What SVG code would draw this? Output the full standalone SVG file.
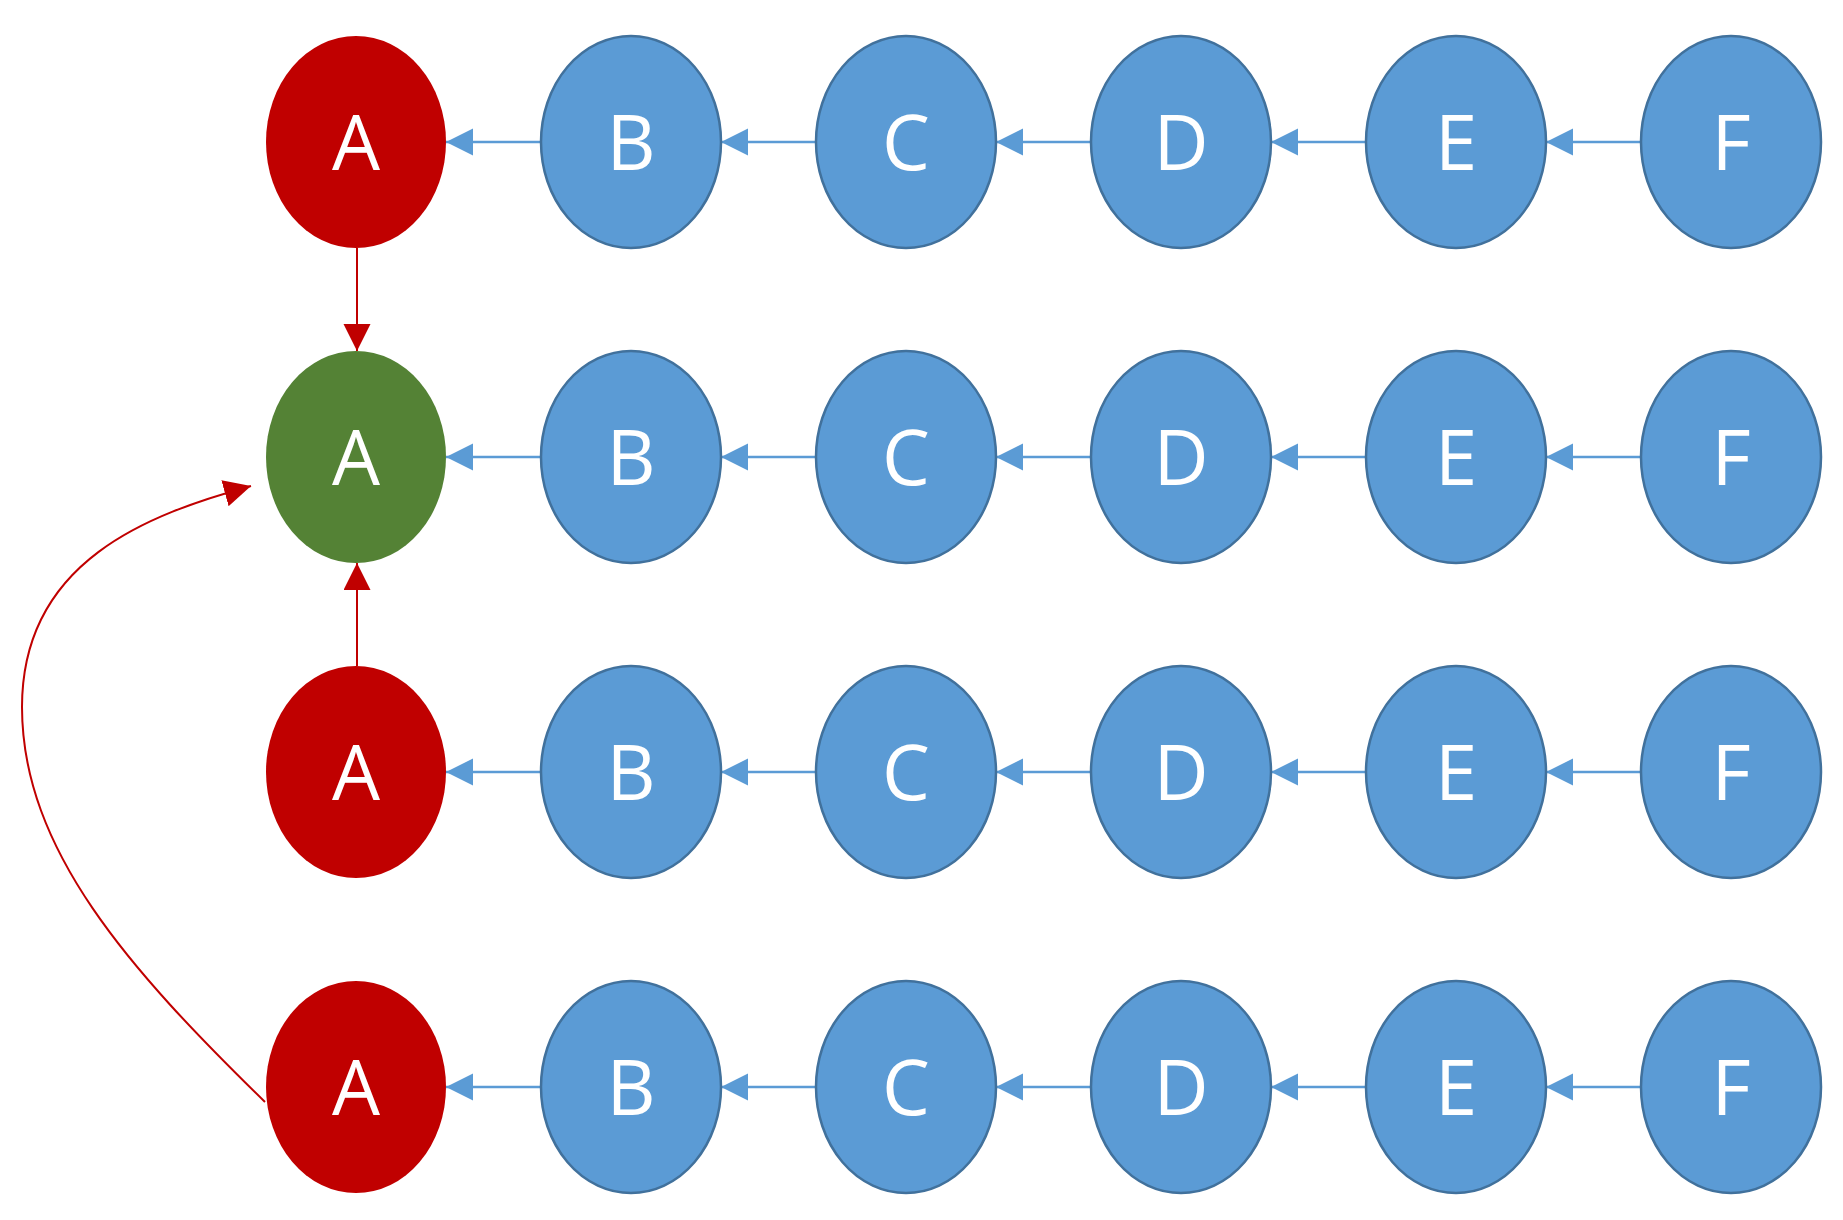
<svg xmlns="http://www.w3.org/2000/svg" width="1843" height="1220" viewBox="0 0 1843 1220">
<style>
.blue{fill:#5B9BD5;stroke:#41719C;stroke-width:2.5}
.red{fill:#C00000}
.green{fill:#548235}
.lbl{font-family:"Open Sans","Liberation Sans",sans-serif;font-size:76px;fill:#FFFFFF;text-anchor:middle}
.bl{stroke:#5B9BD5;stroke-width:2.5;fill:none;marker-end:url(#ab)}
.rl{stroke:#C00000;stroke-width:2;fill:none;marker-end:url(#ar)}
</style>
<defs>
<marker id="ab" markerUnits="userSpaceOnUse" markerWidth="28" markerHeight="28" refX="27" refY="13.5" orient="auto"><path d="M0,0 L27,13.5 L0,27 z" fill="#5B9BD5"/></marker>
<marker id="ar" markerUnits="userSpaceOnUse" markerWidth="28" markerHeight="28" refX="27" refY="13.5" orient="auto"><path d="M0,0 L27,13.5 L0,27 z" fill="#C00000"/></marker>
</defs>
<rect width="1843" height="1220" fill="#FFFFFF"/>
<g id="connectors">
<line class="bl" x1="541" y1="142" x2="446" y2="142"/>
<line class="bl" x1="816" y1="142" x2="721" y2="142"/>
<line class="bl" x1="1091" y1="142" x2="996" y2="142"/>
<line class="bl" x1="1366" y1="142" x2="1271" y2="142"/>
<line class="bl" x1="1641" y1="142" x2="1546" y2="142"/>
<line class="bl" x1="541" y1="457" x2="446" y2="457"/>
<line class="bl" x1="816" y1="457" x2="721" y2="457"/>
<line class="bl" x1="1091" y1="457" x2="996" y2="457"/>
<line class="bl" x1="1366" y1="457" x2="1271" y2="457"/>
<line class="bl" x1="1641" y1="457" x2="1546" y2="457"/>
<line class="bl" x1="541" y1="772" x2="446" y2="772"/>
<line class="bl" x1="816" y1="772" x2="721" y2="772"/>
<line class="bl" x1="1091" y1="772" x2="996" y2="772"/>
<line class="bl" x1="1366" y1="772" x2="1271" y2="772"/>
<line class="bl" x1="1641" y1="772" x2="1546" y2="772"/>
<line class="bl" x1="541" y1="1087" x2="446" y2="1087"/>
<line class="bl" x1="816" y1="1087" x2="721" y2="1087"/>
<line class="bl" x1="1091" y1="1087" x2="996" y2="1087"/>
<line class="bl" x1="1366" y1="1087" x2="1271" y2="1087"/>
<line class="bl" x1="1641" y1="1087" x2="1546" y2="1087"/>
<line class="rl" x1="357" y1="248" x2="357" y2="351"/>
<line class="rl" x1="357" y1="666" x2="357" y2="563"/>
<path class="rl" d="M265,1102 C130,970 22,850 22,707 C22,560 150,514 251,486"/>
</g>
<g id="row1">
<g id="n1A"><ellipse class="red" cx="356" cy="142" rx="90" ry="106"/><text class="lbl" x="356" y="170">A</text></g>
<g id="n1B"><ellipse class="blue" cx="631" cy="142" rx="90" ry="106"/><text class="lbl" x="631" y="170">B</text></g>
<g id="n1C"><ellipse class="blue" cx="906" cy="142" rx="90" ry="106"/><text class="lbl" x="906" y="170">C</text></g>
<g id="n1D"><ellipse class="blue" cx="1181" cy="142" rx="90" ry="106"/><text class="lbl" x="1181" y="170">D</text></g>
<g id="n1E"><ellipse class="blue" cx="1456" cy="142" rx="90" ry="106"/><text class="lbl" x="1456" y="170">E</text></g>
<g id="n1F"><ellipse class="blue" cx="1731" cy="142" rx="90" ry="106"/><text class="lbl" x="1731" y="170">F</text></g>
</g>
<g id="row2">
<g id="n2A"><ellipse class="green" cx="356" cy="457" rx="90" ry="106"/><text class="lbl" x="356" y="485">A</text></g>
<g id="n2B"><ellipse class="blue" cx="631" cy="457" rx="90" ry="106"/><text class="lbl" x="631" y="485">B</text></g>
<g id="n2C"><ellipse class="blue" cx="906" cy="457" rx="90" ry="106"/><text class="lbl" x="906" y="485">C</text></g>
<g id="n2D"><ellipse class="blue" cx="1181" cy="457" rx="90" ry="106"/><text class="lbl" x="1181" y="485">D</text></g>
<g id="n2E"><ellipse class="blue" cx="1456" cy="457" rx="90" ry="106"/><text class="lbl" x="1456" y="485">E</text></g>
<g id="n2F"><ellipse class="blue" cx="1731" cy="457" rx="90" ry="106"/><text class="lbl" x="1731" y="485">F</text></g>
</g>
<g id="row3">
<g id="n3A"><ellipse class="red" cx="356" cy="772" rx="90" ry="106"/><text class="lbl" x="356" y="800">A</text></g>
<g id="n3B"><ellipse class="blue" cx="631" cy="772" rx="90" ry="106"/><text class="lbl" x="631" y="800">B</text></g>
<g id="n3C"><ellipse class="blue" cx="906" cy="772" rx="90" ry="106"/><text class="lbl" x="906" y="800">C</text></g>
<g id="n3D"><ellipse class="blue" cx="1181" cy="772" rx="90" ry="106"/><text class="lbl" x="1181" y="800">D</text></g>
<g id="n3E"><ellipse class="blue" cx="1456" cy="772" rx="90" ry="106"/><text class="lbl" x="1456" y="800">E</text></g>
<g id="n3F"><ellipse class="blue" cx="1731" cy="772" rx="90" ry="106"/><text class="lbl" x="1731" y="800">F</text></g>
</g>
<g id="row4">
<g id="n4A"><ellipse class="red" cx="356" cy="1087" rx="90" ry="106"/><text class="lbl" x="356" y="1115">A</text></g>
<g id="n4B"><ellipse class="blue" cx="631" cy="1087" rx="90" ry="106"/><text class="lbl" x="631" y="1115">B</text></g>
<g id="n4C"><ellipse class="blue" cx="906" cy="1087" rx="90" ry="106"/><text class="lbl" x="906" y="1115">C</text></g>
<g id="n4D"><ellipse class="blue" cx="1181" cy="1087" rx="90" ry="106"/><text class="lbl" x="1181" y="1115">D</text></g>
<g id="n4E"><ellipse class="blue" cx="1456" cy="1087" rx="90" ry="106"/><text class="lbl" x="1456" y="1115">E</text></g>
<g id="n4F"><ellipse class="blue" cx="1731" cy="1087" rx="90" ry="106"/><text class="lbl" x="1731" y="1115">F</text></g>
</g>
</svg>
